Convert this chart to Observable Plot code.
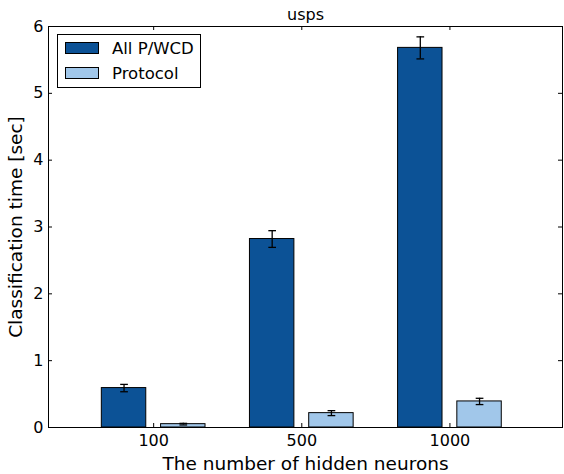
<!DOCTYPE html>
<html><head><meta charset="utf-8">
<script src="https://cdn.jsdelivr.net/npm/d3@7"></script>
<script src="https://cdn.jsdelivr.net/npm/@observablehq/plot@0.6"></script>
<style>
body{margin:0;background:#fff;font-family:"DejaVu Sans",sans-serif;}
#wrap{position:relative;width:564px;height:474px;}
.legend{position:absolute;left:57px;top:34px;width:144px;height:54px;border:1px solid #000;background:#fff;box-sizing:border-box;}
.item{position:absolute;left:7px;height:14px;display:flex;align-items:center;font-size:16.5px;color:#000;white-space:nowrap;}
.sw{width:34px;height:12px;border:1px solid #000;box-sizing:border-box;margin-right:13px;}
</style></head><body>
<div id="wrap"></div>
<script>
const categories = ["100", "500", "1000"];
const series = ["All P/WCD", "Protocol"];
const allValues = [0.59, 2.82, 5.68];
const allErrors = [0.055, 0.125, 0.165];
const protocolValues = [0.05, 0.215, 0.39];
const protocolErrors = [0.012, 0.037, 0.047];
const colors = ["#0c5296", "#a1c7ea"];
const yTicks = [0, 1, 2, 3, 4, 5, 6];
const title = "usps";
const xLabel = "The number of hidden neurons";
const yLabel = "Classification time [sec]";

const rows = [];
categories.forEach((c, i) => {
  rows.push({i, s: series[0], k: 0, v: allValues[i], e: allErrors[i]});
  rows.push({i, s: series[1], k: 1, v: protocolValues[i], e: protocolErrors[i]});
});
const center = d => d.i + (d.k === 0 ? -0.2 : 0.2);
const xDomain = [-0.71, 2.76];

const chart = Plot.plot({
  width: 564, height: 474,
  marginLeft: 48, marginRight: 2, marginTop: 26, marginBottom: 47,
  style: {fontFamily: "DejaVu Sans", background: "#fff", color: "#000"},
  x: {domain: xDomain},
  y: {domain: [0, 6]},
  color: {domain: series, range: colors},
  marks: [
    Plot.rect(rows, {x1: d => center(d) - 0.15, x2: d => center(d) + 0.15, y1: 0, y2: "v", fill: "s", stroke: "#000", strokeWidth: 1}),
    Plot.ruleX(rows, {x: center, y1: d => d.v - d.e, y2: d => d.v + d.e, stroke: "#000", strokeWidth: 1.3}),
    Plot.link(rows, {x1: d => center(d) - 0.026, x2: d => center(d) + 0.026, y1: d => d.v - d.e, y2: d => d.v - d.e, stroke: "#000", strokeWidth: 1.3}),
    Plot.link(rows, {x1: d => center(d) - 0.026, x2: d => center(d) + 0.026, y1: d => d.v + d.e, y2: d => d.v + d.e, stroke: "#000", strokeWidth: 1.3}),
    Plot.frame({stroke: "#000", strokeWidth: 1}),
    Plot.ruleY(yTicks, {y: d => d, insetRight: 510, stroke: "#000"}),
    Plot.ruleY(yTicks, {y: d => d, insetLeft: 510, stroke: "#000"}),
    Plot.ruleX([0, 1, 2], {x: d => d, insetTop: 397, stroke: "#000"}),
    Plot.ruleX([0, 1, 2], {x: d => d, insetBottom: 397, stroke: "#000"}),
    Plot.axisY({ticks: yTicks, tickFormat: d => String(d), tickSize: 0, tickPadding: 5, fontSize: 16, label: null}),
    Plot.axisX({ticks: [0, 1, 2], tickFormat: i => categories[i], tickSize: 0, tickPadding: 7, fontSize: 16, label: null}),
    Plot.text([title], {frameAnchor: "top", lineAnchor: "middle", textAnchor: "middle", dy: -12, fontSize: 16, fill: "#000"}),
    Plot.text([xLabel], {frameAnchor: "bottom", lineAnchor: "middle", textAnchor: "middle", dy: 37, fontSize: 18.5, fill: "#000"}),
    Plot.text([yLabel], {frameAnchor: "left", lineAnchor: "middle", textAnchor: "middle", rotate: -90, dx: -32, fontSize: 18.5, fill: "#000"})
  ]
});
const wrap = document.getElementById("wrap");
wrap.appendChild(chart);
const lg = document.createElement("div");
lg.className = "legend";
series.forEach((s, k) => {
  const it = document.createElement("div");
  it.className = "item";
  it.style.top = (6 + k * 25) + "px";
  const sw = document.createElement("div");
  sw.className = "sw";
  sw.style.background = colors[k];
  const t = document.createElement("span");
  t.textContent = s;
  it.appendChild(sw); it.appendChild(t);
  lg.appendChild(it);
});
wrap.appendChild(lg);
</script>
</body></html>
